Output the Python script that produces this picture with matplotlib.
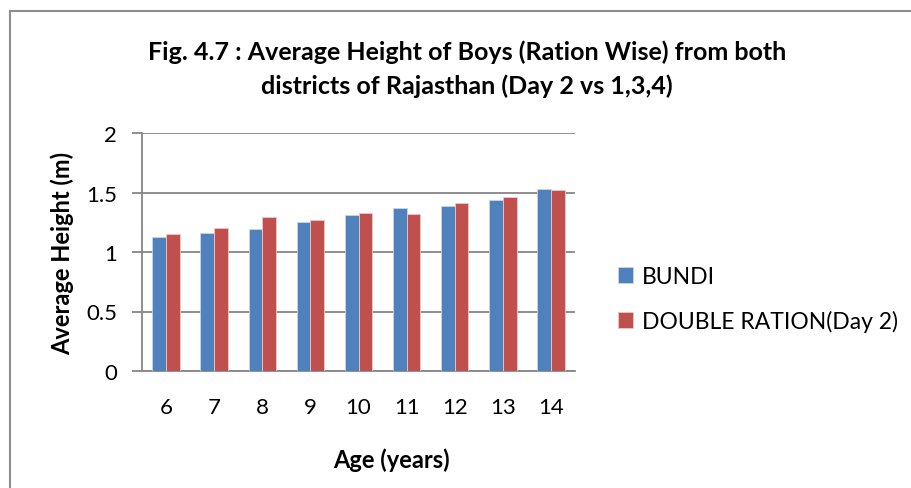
import numpy as np
import matplotlib
matplotlib.use('Agg')
import matplotlib.pyplot as plt
from matplotlib.patches import Rectangle

plt.rcParams['font.family'] = ['Lato', 'DejaVu Sans']

ages = ['6', '7', '8', '9', '10', '11', '12', '13', '14']
bundi = [1.13, 1.16, 1.19, 1.25, 1.31, 1.37, 1.39, 1.44, 1.53]
double_ration = [1.15, 1.20, 1.29, 1.27, 1.33, 1.32, 1.41, 1.46, 1.52]

fig = plt.figure(figsize=(9.11, 4.89), dpi=100)
fig.patch.set_facecolor('white')

# chart frame (Excel style)
fig.patches.append(Rectangle((10 / 911, -0.05), 1.0, 1 - 12 / 489 + 0.05,
                             transform=fig.transFigure, fill=False,
                             edgecolor='#8c8c8c', linewidth=1.5))

ax = fig.add_axes([142 / 911, 1 - 372 / 489, 433 / 911, 238 / 489])
x = np.arange(len(ages))
w = 0.285
ax.bar(x - w / 2, bundi, w, color='#4F81BD', edgecolor='#c9d6ea', linewidth=0.6, label='BUNDI', zorder=3)
ax.bar(x + w / 2, double_ration, w, color='#C0504D', edgecolor='#ecc8c7', linewidth=0.6,
       label='DOUBLE RATION(Day 2)', zorder=3)

ax.set_xlim(-0.5, len(ages) - 0.5)
ax.set_ylim(0, 2)
ax.set_yticks([0, 0.5, 1, 1.5, 2])
ax.set_yticklabels(['0', '0.5', '1', '1.5', '2'])
ax.set_xticks(x)
ax.set_xticklabels(ages)
ax.yaxis.grid(True, color='#868686', linewidth=1.3, zorder=0)
for s in ['top', 'right']:
    ax.spines[s].set_visible(False)
for s in ['left', 'bottom']:
    ax.spines[s].set_color('#868686')
    ax.spines[s].set_linewidth(1.3)
ax.tick_params(axis='y', length=7, color='#868686', width=1.3, labelsize=16, pad=11)
ax.tick_params(axis='x', length=0, labelsize=16, pad=19)

ax.set_ylabel('Average Height (m)', fontsize=17, fontweight='bold')
ax.yaxis.set_label_coords((62 - 142) / 433, 0.5)
ax.set_xlabel('Age (years)', fontsize=17, fontweight='bold')
ax.xaxis.set_label_coords((391 - 142) / 433, (372 - 460) / 238)
ax.xaxis.label.set_va('center')
ax.yaxis.label.set_va('center')

fig.text(467 / 911, 1 - 52 / 489, 'Fig. 4.7 : Average Height of Boys (Ration Wise) from both',
         ha='center', va='center', fontsize=18, fontweight='bold')
fig.text(467 / 911, 1 - 86 / 489, 'districts of Rajasthan (Day 2 vs 1,3,4)',
         ha='center', va='center', fontsize=18, fontweight='bold')

ax.legend(loc='center left', bbox_to_anchor=((618 - 142) / 433, (372 - 300) / 238), frameon=False,
          fontsize=16.5, handlelength=0.65, handleheight=0.65, labelspacing=1.0,
          handletextpad=0.4, borderpad=0, borderaxespad=0)

fig.savefig('out.png', dpi=100)
